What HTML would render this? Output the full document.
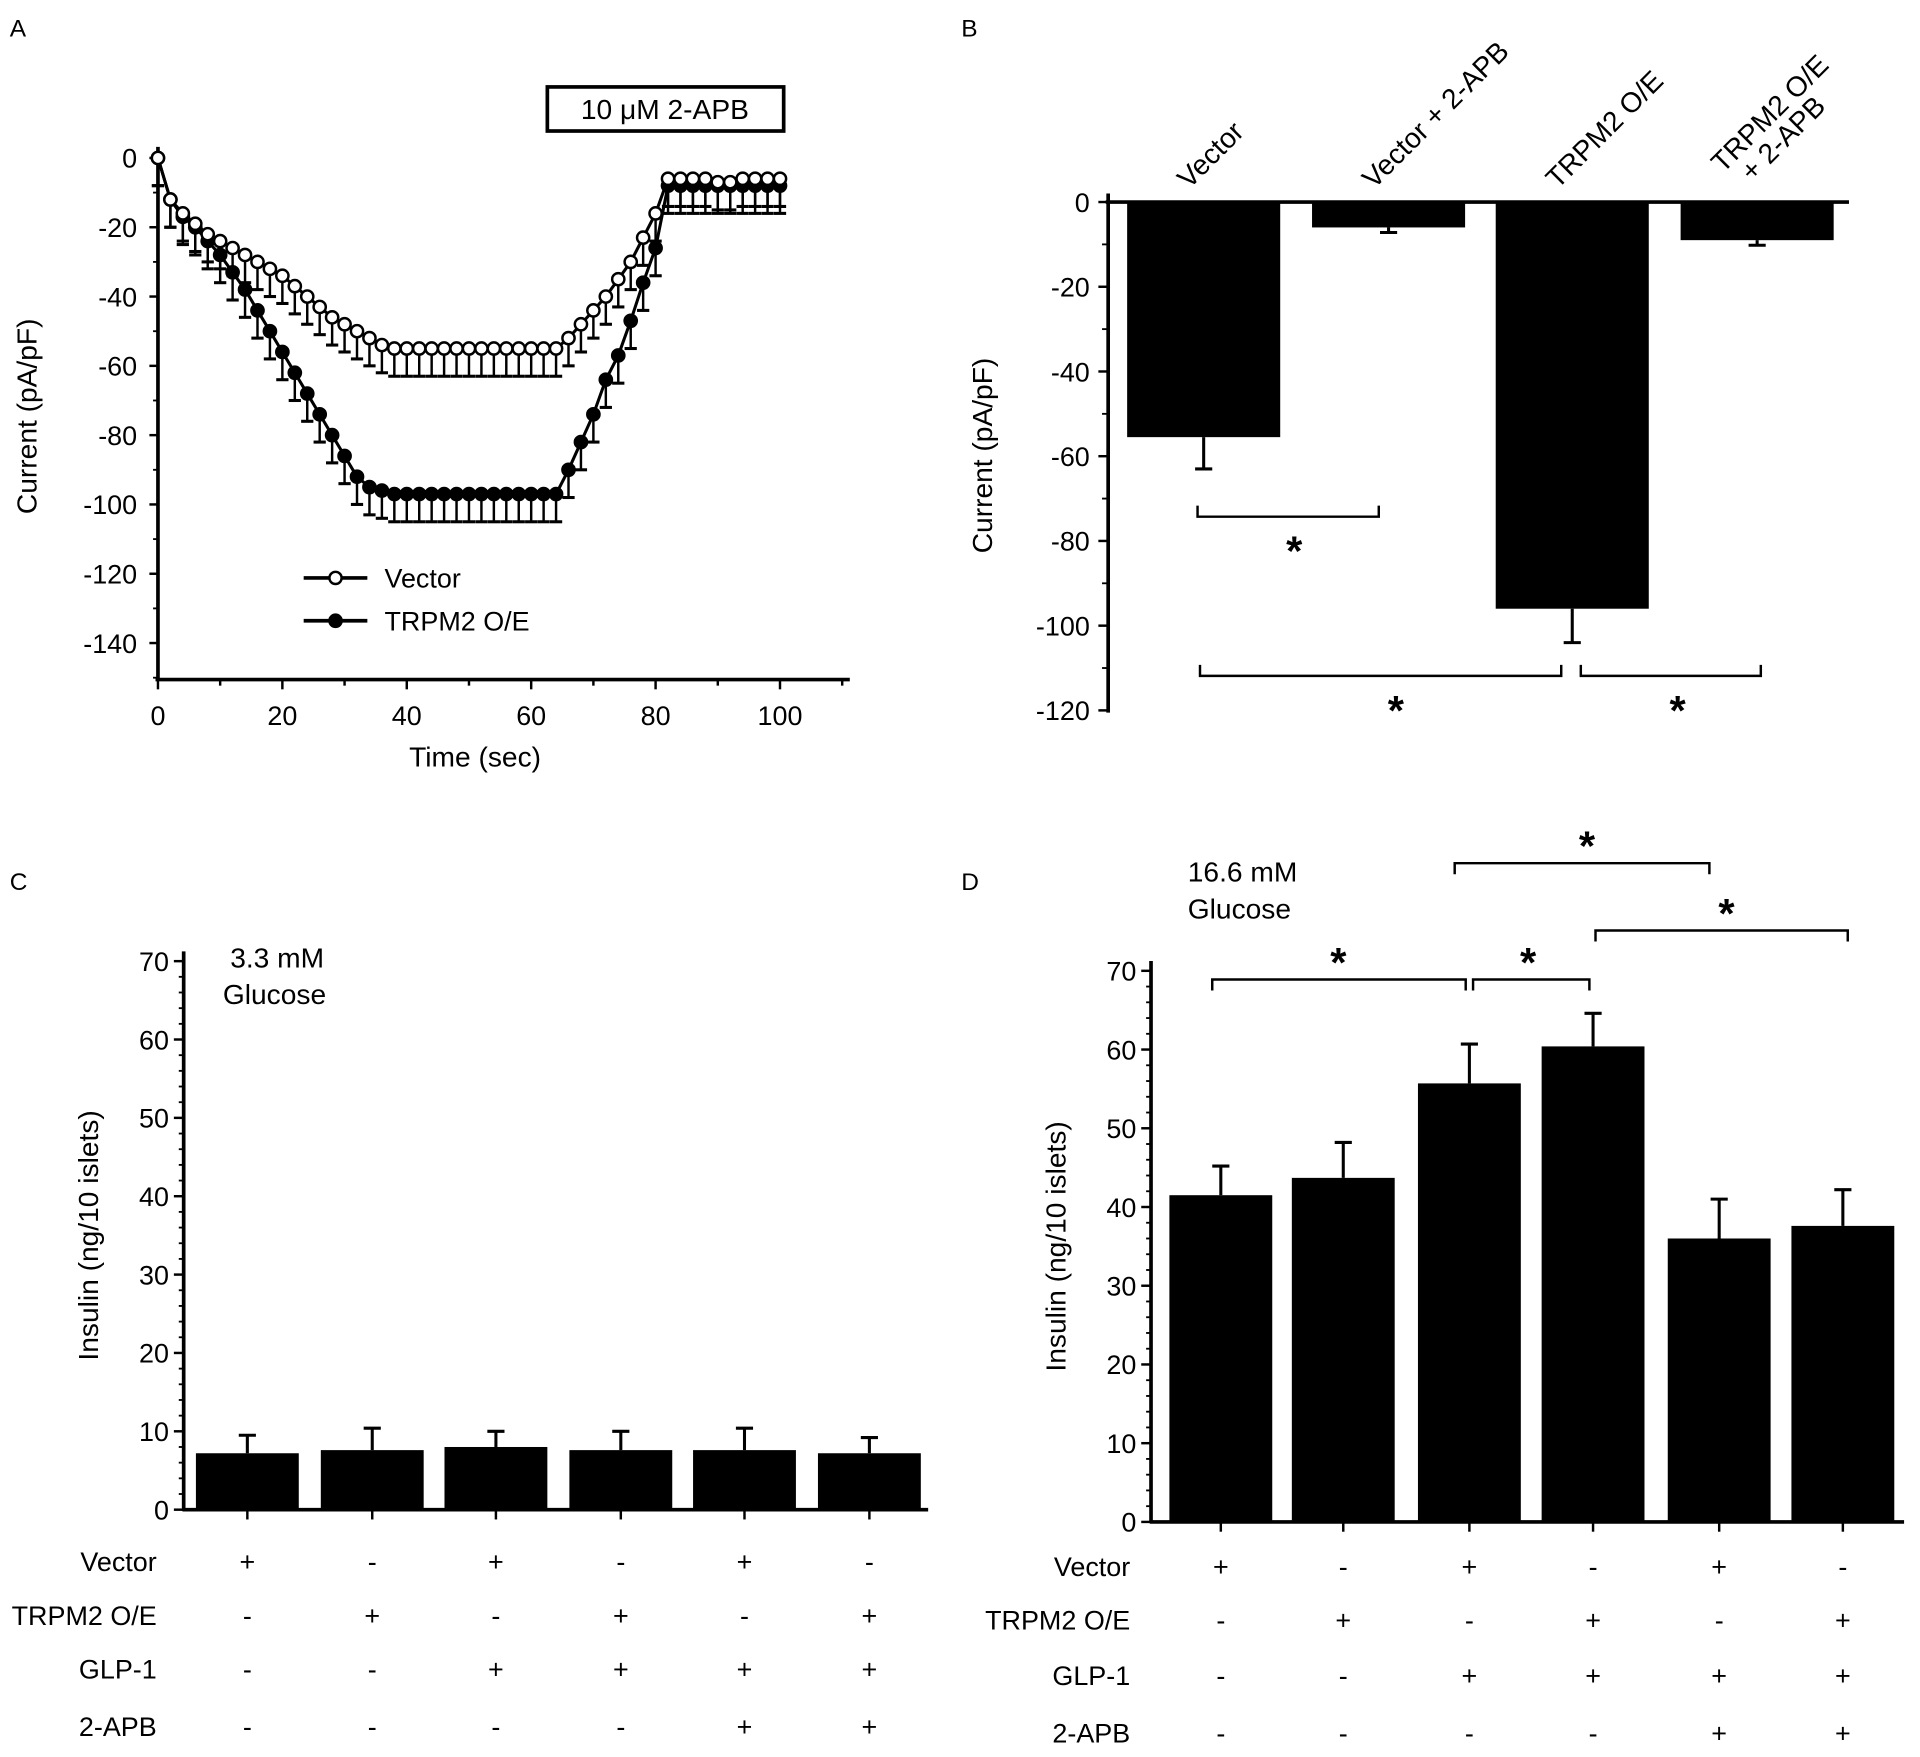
<!DOCTYPE html>
<html><head><meta charset="utf-8"><style>
html,body{margin:0;padding:0;background:#fff;}
svg{display:block;font-family:"Liberation Sans",Arial,sans-serif;}
</style></head><body>
<svg id="fig" width="1920" height="1757" viewBox="0 0 1568 1435" preserveAspectRatio="none">
<g id="pA"></g>
<g id="pB"></g>
<g id="pC"></g>
<g id="pD"></g>
</svg>
<script>
// Panel A data
const timeA = [0,2,4,6,8,10,12,14,16,18,20,22,24,26,28,30,32,34,36,38,40,42,44,46,48,50,52,54,56,58,60,62,64,66,68,70,72,74,76,78,80,82,84,86,88,90,92,94,96,98,100];
const vectorA = [0,-12,-16,-19,-22,-24,-26,-28,-30,-32,-34,-37,-40,-43,-46,-48,-50,-52,-54,-55,-55,-55,-55,-55,-55,-55,-55,-55,-55,-55,-55,-55,-55,-52,-48,-44,-40,-35,-30,-23,-16,-6,-6,-6,-6,-7,-7,-6,-6,-6,-6];
const trpmA = [0,-12,-17,-20,-24,-28,-33,-38,-44,-50,-56,-62,-68,-74,-80,-86,-92,-95,-96,-97,-97,-97,-97,-97,-97,-97,-97,-97,-97,-97,-97,-97,-97,-90,-82,-74,-64,-57,-47,-36,-26,-8,-8,-8,-8,-8,-8,-8,-8,-8,-8];
const errVecA = 8, errTrpA = 8;
const xTicksA = [0,20,40,60,80,100];
const yTicksA = [0,-20,-40,-60,-80,-100,-120,-140];
// Panel B data
const catsB = ["Vector","Vector + 2-APB","TRPM2 O/E","TRPM2 O/E|+ 2-APB"];
const valsB = [-55.5,-6,-96,-9];
const errsB = [7.5,1.2,8,1.2];
const yTicksB = [0,-20,-40,-60,-80,-100,-120];
// Panel C data
const valsC = [7.2,7.6,8.0,7.6,7.6,7.2];
const errsC = [2.3,2.8,2.0,2.4,2.8,2.0];
// Panel D data
const valsD = [41.5,43.7,55.7,60.4,36.0,37.6];
const errsD = [3.7,4.5,5.0,4.2,5.0,4.6];
const yTicksCD = [0,10,20,30,40,50,60,70];
const rowsCD = ["Vector","TRPM2 O/E","GLP-1","2-APB"];
const signsCD = [["+","-","+","-","+","-"],["-","+","-","+","-","+"],["-","-","+","+","+","+"],["-","-","-","-","+","+"]];

const NS="http://www.w3.org/2000/svg";
function mk(p,tag,a,txt){const e=document.createElementNS(NS,tag);for(const k in a)e.setAttribute(k,a[k]);if(txt!==undefined)e.textContent=txt;p.appendChild(e);return e;}
function ln(p,x1,y1,x2,y2,w){return mk(p,"line",{x1,y1,x2,y2,stroke:"#000","stroke-width":w||2});}

// ---------- Panel A
(function(){
const g=document.getElementById("pA");
const X=t=>129+t*5.08, Y=v=>129-v*2.83;
let t=mk(g,"text",{x:8,y:30,"font-size":20},"A");

const box=mk(g,"rect",{x:447,y:71,width:193,height:36,fill:"none",stroke:"#000","stroke-width":3});

t=mk(g,"text",{x:543,y:97,"font-size":23,"text-anchor":"middle"},"10 μM 2-APB");

ln(g,129,120,129,556,3);ln(g,127,555,694,555,3);
yTicksA.forEach(v=>{ln(g,122,Y(v),129,Y(v),2);ln(g,125,Y(v)+28.3,129,Y(v)+28.3,1.5);
 const l=mk(g,"text",{x:112,y:Y(v)+8,"font-size":22,"text-anchor":"end"},String(v));
 });
for(let s=0;s<=110;s+=10){ln(g,X(s),555,X(s),s%20?560:563,2);}
xTicksA.forEach(v=>{const l=mk(g,"text",{x:X(v),y:592,"font-size":22,"text-anchor":"middle"},String(v));
 });
t=mk(g,"text",{x:388,y:626,"font-size":23,"text-anchor":"middle"},"Time (sec)");

t=mk(g,"text",{x:30,y:340,"font-size":23,"text-anchor":"middle",transform:"rotate(-90 30 340)"},"Current (pA/pF)");

function series(vals,err,filled,name){
 const sg=mk(g,"g",{});
 vals.forEach((v,i)=>{const x=X(timeA[i]),y=Y(v);ln(sg,x,y,x,Y(v-err),2);ln(sg,x-5,Y(v-err),x+5,Y(v-err),2.5);});
 mk(sg,"polyline",{points:vals.map((v,i)=>X(timeA[i])+","+Y(v)).join(" "),fill:"none",stroke:"#000","stroke-width":2.5});
 vals.forEach((v,i)=>{const c=mk(sg,"circle",{cx:X(timeA[i]),cy:Y(v),r:5,fill:filled?"#000":"#fff",stroke:"#000","stroke-width":2});
  });
}
series(trpmA,errTrpA,true,"trpm2-series");
series(vectorA,errVecA,false,"vector-series");
[["Vector",472,false],["TRPM2 O/E",507,true]].forEach(([n,y,f])=>{
 const lg=mk(g,"g",{});
 ln(lg,248,y,300,y,3);mk(lg,"circle",{cx:274,cy:y,r:5,fill:f?"#000":"#fff",stroke:"#000","stroke-width":2});
 mk(lg,"text",{x:314,y:y+8,"font-size":22},n);});
})();

// ---------- Panel B
(function(){
const g=document.getElementById("pB");
const Y=v=>165-v*3.46, cx=[983,1134,1284,1435], bw=125;
let t=mk(g,"text",{x:785,y:30,"font-size":20},"B");

valsB.forEach((v,i)=>{
 const r=mk(g,"rect",{x:cx[i]-bw/2,y:165,width:bw,height:Y(v)-165,fill:"#000"});
 
 const ye=Y(v-errsB[i]);ln(g,cx[i],Y(v),cx[i],ye,2.5);ln(g,cx[i]-7,ye,cx[i]+7,ye,2.5);
 const lines=catsB[i].split("|");
 const two=lines.length>1;
 const l=mk(g,"text",{x:0,y:0,"font-size":23,transform:`translate(${cx[i]-(two?28:12)},${two?142:155}) rotate(-45)`});
 
 if(!two){l.textContent=lines[0];}
 else{mk(l,"tspan",{x:0,y:0},lines[0]);mk(l,"tspan",{x:12,y:22},lines[1]);}
});
ln(g,905,158,905,582,3);ln(g,903,165,1510,165,3);
yTicksB.forEach(v=>{ln(g,897,Y(v),905,Y(v),2);if(v>-120)ln(g,900,Y(v)+34.6,905,Y(v)+34.6,1.5);
 const l=mk(g,"text",{x:890,y:Y(v)+8,"font-size":22,"text-anchor":"end"},String(v));
 });
t=mk(g,"text",{x:810,y:372,"font-size":23,"text-anchor":"middle",transform:"rotate(-90 810 372)"},"Current (pA/pF)");

[[978,1126,422,1057],[980,1275,552,1140],[1291,1438,552,1370]].forEach(([a,b,y,s])=>{
 const bg=mk(g,"g",{});
 mk(bg,"polyline",{points:`${a},${y-9} ${a},${y} ${b},${y} ${b},${y-9}`,fill:"none",stroke:"#000","stroke-width":2});
 mk(bg,"text",{x:s,y:y+40,"font-size":34,"font-weight":"bold","text-anchor":"middle"},"*");});
})();

// ---------- Panels C & D
function barPanel(id,lab,lx,ly,ax,y0,ppu,cx,vals,errs,axEnd,rowY,labRight,glu,gx,gy){
const g=document.getElementById(id);
const Y=v=>y0-v*ppu;
let t=mk(g,"text",{x:lx,y:ly,"font-size":20},lab);

vals.forEach((v,i)=>{
 const r=mk(g,"rect",{x:cx[i]-42,y:Y(v),width:84,height:y0-Y(v),fill:"#000"});
 
 const ye=Y(v+errs[i]);ln(g,cx[i],Y(v),cx[i],ye,2.5);ln(g,cx[i]-7,ye,cx[i]+7,ye,2.5);
 ln(g,cx[i],y0,cx[i],y0+8,2);
});
ln(g,ax,Y(70)-8,ax,y0+1,3);ln(g,ax-1,y0,axEnd,y0,3);
yTicksCD.forEach(v=>{ln(g,ax-8,Y(v),ax,Y(v),2);for(let k=1;k<5&&v<70;k++)ln(g,ax-4,Y(v+k*2),ax,Y(v+k*2),1.5);
 const l=mk(g,"text",{x:ax-12,y:Y(v)+8,"font-size":22,"text-anchor":"end"},String(v));
 });
const ym=(Y(0)+Y(70))/2, tx=ax-70;
t=mk(g,"text",{x:tx,y:ym,"font-size":23,"text-anchor":"middle",transform:`rotate(-90 ${tx} ${ym})`},"Insulin (ng/10 islets)");

t=mk(g,"text",{x:gx,y:gy,"font-size":23},"");
mk(t,"tspan",{x:gx+(lab=="C"?6:0),dy:0},glu);mk(t,"tspan",{x:gx,dy:30},"Glucose");
rowsCD.forEach((r,j)=>{
 const l=mk(g,"text",{x:labRight,y:rowY[j]+8,"font-size":22,"text-anchor":"end"},r);
 
 signsCD[j].forEach((s,i)=>{const c=mk(g,"text",{x:cx[i],y:rowY[j]+8,"font-size":22,"text-anchor":"middle"},s);
  });
});
return {g,Y};
}
barPanel("pC","C",8,727,150,1233,6.4,[202,304,405,507,608,710],valsC,errsC,758,[1275,1319,1363,1410],128,"3.3 mM",182,790);
const D=barPanel("pD","D",785,727,940,1243,6.43,[997,1097,1200,1301,1404,1505],valsD,errsD,1555,[1279,1323,1368,1415],923,"16.6 mM",970,720);
[[990,1197,800,1093],[1203,1298,800,1248],[1188,1396,705,1296],[1303,1509,760,1410]].forEach(([a,b,y,s])=>{
 const bg=mk(D.g,"g",{});
 mk(bg,"polyline",{points:`${a},${y+9} ${a},${y} ${b},${y} ${b},${y+9}`,fill:"none",stroke:"#000","stroke-width":2});
 mk(bg,"text",{x:s,y:y-2,"font-size":34,"font-weight":"bold","text-anchor":"middle"},"*");});
</script>
</body></html>
